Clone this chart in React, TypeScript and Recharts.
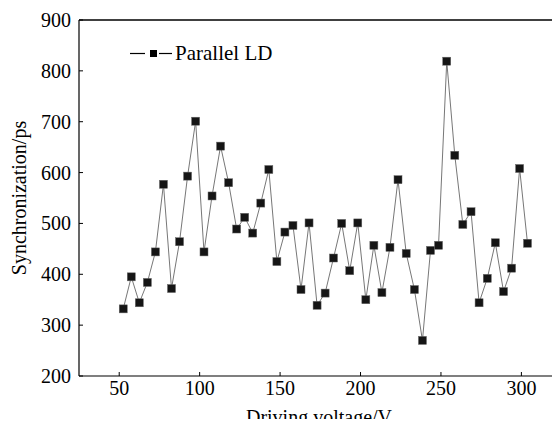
import React from 'react';
import { LineChart, Line, XAxis, YAxis, Label, ReferenceLine } from 'recharts';

const FONT = '"Liberation Serif", "Times New Roman", serif';

const voltages = [
  52.5, 57.5, 62.5, 67.5, 72.5, 77.5, 82.5, 87.5, 92.5, 97.5,
  102.7, 107.7, 113, 118, 123, 128, 133, 138, 143, 148,
  153, 158, 163, 168, 173, 178, 183.2, 188.3, 193.3, 198.3,
  203.3, 208.3, 213.3, 218.3, 223.3, 228.4, 233.5, 238.5, 243.5, 248.5,
  253.6, 258.6, 263.6, 268.7, 273.7, 278.8, 283.8, 288.9, 293.9, 298.9,
  303.8,
];
const synchronization = [
  332, 395, 344, 384, 444, 577, 372, 464, 593, 701,
  444, 554, 652, 580, 489, 512, 481, 540, 606, 425,
  483, 496, 370, 501, 339, 363, 432, 500, 407, 501,
  350, 457, 364, 453, 586, 441, 370, 270, 447, 457,
  819, 634, 498, 523, 344, 392, 462, 366, 412, 608,
  461,
];
const xTicks = [50, 100, 150, 200, 250, 300];
const yTicks = [200, 300, 400, 500, 600, 700, 800, 900];
const seriesName = 'Parallel LD';
const xTitle = 'Driving voltage/V';
const yTitle = 'Synchronization/ps';

const data = voltages.map((v, i) => ({ v, s: synchronization[i] }));

const SquareDot = (props: any) => {
  const { cx, cy, index } = props;
  if (cx == null || cy == null) return <g key={index} />;
  return (
    <rect
      key={index}
      x={cx - 4}
      y={cy - 4}
      width={8}
      height={8}
      fill="#151515"
      stroke="#666"
      strokeWidth={0.5}
    />
  );
};

const XTick = (props: any) => {
  const { x, y, payload } = props;
  return (
    <text x={x} y={y + 14} textAnchor="middle" fontFamily={FONT} fontSize={20} fill="#000">
      {payload.value}
    </text>
  );
};

const YTick = (props: any) => {
  const { x, y, payload } = props;
  return (
    <text x={x} y={y + 7} textAnchor="end" fontFamily={FONT} fontSize={20} fill="#000">
      {payload.value}
    </text>
  );
};

const XTitle = () => (
  <text x={319} y={424} textAnchor="middle" fontFamily={FONT} fontSize={20} fill="#000">
    {xTitle}
  </text>
);

const YTitle = () => (
  <text
    x={0}
    y={0}
    transform="translate(26,198) rotate(-90)"
    textAnchor="middle"
    fontFamily={FONT}
    fontSize={20}
    fill="#000"
  >
    {yTitle}
  </text>
);

export default function App() {
  return (
    <div
      style={{
        position: 'relative',
        width: 560,
        height: 427,
        margin: -8,
        background: '#fff',
        fontFamily: FONT,
      }}
    >
      <LineChart
        width={560}
        height={427}
        data={data}
        margin={{ top: 20, right: 0, bottom: 0, left: 0 }}
      >
        <XAxis
          type="number"
          dataKey="v"
          domain={[25, 324]}
          ticks={xTicks}
          height={51}
          tickSize={-4}
          tickMargin={9}
          tick={<XTick />}
          tickLine={{ stroke: '#000' }}
          axisLine={{ stroke: '#000', strokeWidth: 1.2 }}
          allowDataOverflow
        >
          <Label content={<XTitle />} />
        </XAxis>
        <YAxis
          type="number"
          domain={[200, 900]}
          ticks={yTicks}
          width={79}
          tickSize={-4}
          tickMargin={12}
          tick={<YTick />}
          tickLine={{ stroke: '#000' }}
          axisLine={{ stroke: '#000', strokeWidth: 1.2 }}
          allowDataOverflow
        >
          <Label content={<YTitle />} />
        </YAxis>
        <ReferenceLine y={900} stroke="#000" strokeWidth={1.5} ifOverflow="visible" />
        <Line
          type="linear"
          dataKey="s"
          name={seriesName}
          stroke="#777"
          strokeWidth={1}
          dot={SquareDot}
          activeDot={false}
          isAnimationActive={false}
        />
      </LineChart>
      <div
        style={{
          position: 'absolute',
          left: 128,
          top: 41,
          height: 24,
          display: 'flex',
          alignItems: 'center',
          fontFamily: FONT,
          fontSize: 21,
          color: '#000',
          whiteSpace: 'nowrap',
        }}
      >
        <svg width={46} height={24} style={{ display: 'block' }}>
          <line x1={2} y1={12.5} x2={17} y2={12.5} stroke="#000" strokeWidth={1.2} />
          <rect x={22} y={9} width={7} height={7} fill="#000" />
          <line x1={31} y1={12.5} x2={44} y2={12.5} stroke="#000" strokeWidth={1.2} />
        </svg>
        <span style={{ marginLeft: 1 }}>{seriesName}</span>
      </div>
    </div>
  );
}
